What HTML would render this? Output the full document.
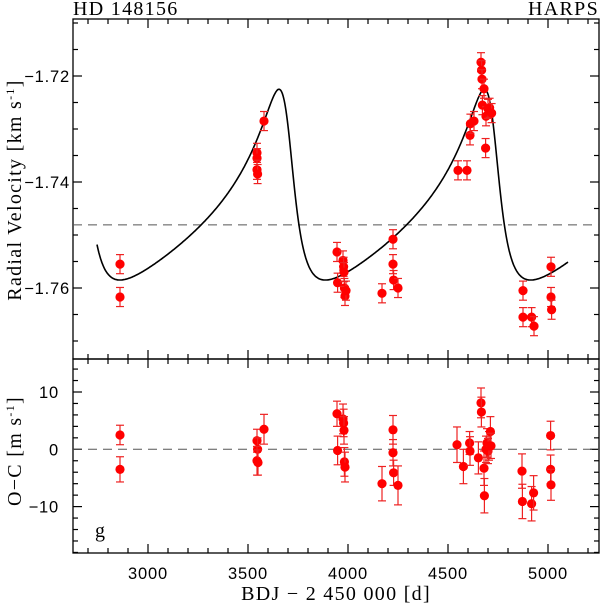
<!DOCTYPE html>
<html><head><meta charset="utf-8"><style>
body{margin:0;background:#fff}
svg{display:block}
.tk{font-family:"Liberation Sans",sans-serif;font-size:16.5px;letter-spacing:0.8px;fill:#000}
.tt{font-family:"Liberation Serif",serif;font-size:20px;letter-spacing:1.3px;fill:#000}
</style></head><body>
<svg id="c" width="600" height="604" viewBox="0 0 600 604" xmlns="http://www.w3.org/2000/svg"></svg>
<script>
// ---- data ----
const rvTimes=[2860,2860,3545,3545,3545,3548,3580,3945,3948,3975,3978,3980,3982,3985,3990,4170,4225,4225,4228,4250,4550,4595,4610,4612,4630,4665,4668,4670,4672,4680,4688,4690,4700,4708,4718,4875,4875,4918,4930,5015,5015,5018];
const rvValues=[-1.7555,-1.7617,-1.7345,-1.7355,-1.7377,-1.7385,-1.7285,-1.7532,-1.7590,-1.7548,-1.7560,-1.7570,-1.7600,-1.7615,-1.7605,-1.7610,-1.7508,-1.7555,-1.7585,-1.7600,-1.7378,-1.7378,-1.7312,-1.7290,-1.7285,-1.7174,-1.7189,-1.7206,-1.7255,-1.7224,-1.7336,-1.7276,-1.7262,-1.7260,-1.7270,-1.7605,-1.7655,-1.7655,-1.7672,-1.7560,-1.7617,-1.7641];
const rvErr=0.0018;
const ocTimes=[2860,2860,3545,3548,3545,3550,3580,3945,3948,3975,3978,3980,3982,3985,4170,4225,4225,4228,4250,4545,4577,4608,4610,4652,4665,4667,4680,4682,4690,4695,4700,4705,4712,4715,4870,4872,4918,4928,5013,5013,5015];
const ocValues=[2.5,-3.5,1.5,0,-2.0,-2.3,3.5,6.2,-0.2,5.3,4.6,3.3,-2.2,-3.1,-6.0,3.4,-0.6,-4.1,-6.3,0.8,-3.0,1.1,-0.3,-1.5,8.1,6.5,-3.3,-8.1,0,1.1,-0.3,0.6,3.1,0.6,-3.8,-9.1,-9.5,-7.6,2.4,-3.5,-6.2];
const ocErr=[1.7,2.2,2.0,2.0,2.5,2.2,2.6,2.2,2.5,2.6,2.4,2.4,2.5,2.6,3.0,2.5,2.3,2.2,3.4,3.1,3.0,2.0,2.5,2.8,2.6,2.6,3.0,3.0,2.3,2.5,2.2,2.5,2.6,2.2,3.0,3.0,3.0,3.0,2.5,2.5,2.7];
const xTicks=[3000,3500,4000,4500,5000];
const rvTicks=[-1.72,-1.74,-1.76];
const ocTicks=[10,0,-10];
// Keplerian model parameters: period, ecc, omega(deg), peak time, K, max value
const kepP=1027, kepE=0.52, kepW=55, kepPeak=3655, kepK=0.0180, kepMax=-1.7225;
const meanRV=-1.7481;

// ---- axes ----
const L=73,R=599,T=19,M=359,B=553;
const X=d=>148+(d-3000)*0.2;
const Yt=v=>76+(-1.72-v)*5300;
const Yb=v=>449.3-v*5.73;
const svg=document.getElementById('c');
const NS='http://www.w3.org/2000/svg';
function mk(tag,attrs,parent){const e=document.createElementNS(NS,tag);for(const k in attrs)e.setAttribute(k,attrs[k]);(parent||svg).appendChild(e);return e;}
function line(x1,y1,x2,y2,extra){return mk('line',Object.assign({x1,y1,x2,y2,stroke:'#000','stroke-width':1.2},extra||{}));}

let f1=mk('rect',{x:L,y:T,width:R-L,height:M-T,fill:'none',stroke:'#000','stroke-width':1.3});


let f2=mk('rect',{x:L,y:M,width:R-L,height:B-M,fill:'none',stroke:'#000','stroke-width':1.3});



for(let d=2700;d<=5200;d+=100){
  const x=X(d);const maj=d%500===0;const l=maj?9:5;
  [T,M,B].forEach((yy,i)=>{
    if(i!==0) line(x,yy,x,yy-l);
    if(i!==2) line(x,yy,x,yy+l);
  });
}
xTicks.forEach(d=>{const t=mk('text',{x:X(d),y:579,'text-anchor':'middle',class:'tk'});t.textContent=d;

});
for(let i=-1.710;i>=-1.7734;i-=0.005){const y=Yt(i);const maj=Math.abs(Math.round(i*1000)%20)===0;const l=maj?9:5;line(L,y,L+l,y);line(R,y,R-l,y);}
rvTicks.forEach(v=>{const t=mk('text',{x:L-3,y:Yt(v)+6,'text-anchor':'end',class:'tk'});t.textContent='\u22121.'+String(Math.round(-v*100)).slice(1);

});
for(let v=-18;v<=14;v+=2){const y=Yb(v);const l=v%10===0?9:5;line(L,y,L+l,y);line(R,y,R-l,y);}
ocTicks.forEach(v=>{const t=mk('text',{x:L-14,y:Yb(v)+6,'text-anchor':'end',class:'tk'});t.textContent=v<0?'\u2212'+(-v):v;

});

let d1=line(L,Yt(meanRV),R,Yt(meanRV),{stroke:'#555','stroke-dasharray':'9,6','stroke-width':1});


let d2=line(L,Yb(0),R,Yb(0),{stroke:'#555','stroke-dasharray':'9,6','stroke-width':1});



const e=kepE,w=kepW*Math.PI/180;
function nuToM(nu){const E=2*Math.atan(Math.sqrt((1-e)/(1+e))*Math.tan(nu/2));return E-e*Math.sin(E);}
const Mpeak=nuToM(-w);const Tp=kepPeak-Mpeak*kepP/(2*Math.PI);
const gamma=kepMax-kepK*(1+e*Math.cos(w));
function rv(t){let Mm=2*Math.PI*(t-Tp)/kepP;Mm=((Mm%(2*Math.PI))+3*Math.PI)%(2*Math.PI)-Math.PI;let E=Mm;for(let i=0;i<50;i++)E=E-(E-e*Math.sin(E)-Mm)/(1-e*Math.cos(E));
const nu=2*Math.atan2(Math.sqrt(1+e)*Math.sin(E/2),Math.sqrt(1-e)*Math.cos(E/2));return gamma+kepK*(Math.cos(nu+w)+e*Math.cos(w));}
let pts=[];for(let t=2745;t<=5100;t+=3)pts.push(X(t).toFixed(1)+','+Yt(rv(t)).toFixed(1));
let cv=mk('polyline',{points:pts.join(' '),fill:'none',stroke:'#000','stroke-width':1.6});



const RED='#f00';
function point(x,y,eu,ed,name){const g=mk('g',{});


mk('line',{x1:x,y1:y-eu,x2:x,y2:y+ed,stroke:'#e22','stroke-width':1.2},g);
mk('line',{x1:x-4,y1:y-eu,x2:x+4,y2:y-eu,stroke:'#e22','stroke-width':1.2},g);
mk('line',{x1:x-4,y1:y+ed,x2:x+4,y2:y+ed,stroke:'#e22','stroke-width':1.2},g);
mk('circle',{cx:x,cy:y,r:4.6,fill:RED},g);}
rvTimes.forEach((t,i)=>{const y=Yt(rvValues[i]);point(X(t),y,rvErr*5300,rvErr*5300,'rv-point');});
ocTimes.forEach((t,i)=>{point(X(t),Yb(ocValues[i]),ocErr[i]*5.73,ocErr[i]*5.73,'residual-point');});

function txt(s,a,name){const t=mk('text',a);t.textContent=s;return t;}
txt('HD 148156',{x:73,y:15,class:'tt'},'star-name');
txt('HARPS',{x:599,y:15,'text-anchor':'end',class:'tt'},'instrument-label');
txt('g',{x:95,y:537,class:'tt'},'panel-letter');
const yt=txt('',{x:21,y:190,'text-anchor':'middle',class:'tt',transform:'rotate(-90 21 190)'},'rv-axis-title');
yt.innerHTML='Radial Velocity [km s<tspan dy="-7" font-size="12">-1</tspan><tspan dy="7">]</tspan>';
const yb=txt('',{x:21,y:451,'text-anchor':'middle',class:'tt',transform:'rotate(-90 21 451)'},'oc-axis-title');
yb.innerHTML='O\u2212C [m s<tspan dy="-7" font-size="12">-1</tspan><tspan dy="7">]</tspan>';
txt('BDJ \u2212 2 450 000 [d]',{x:336,y:600,'text-anchor':'middle',class:'tt'},'x-axis-title');
</script>
</body></html>
